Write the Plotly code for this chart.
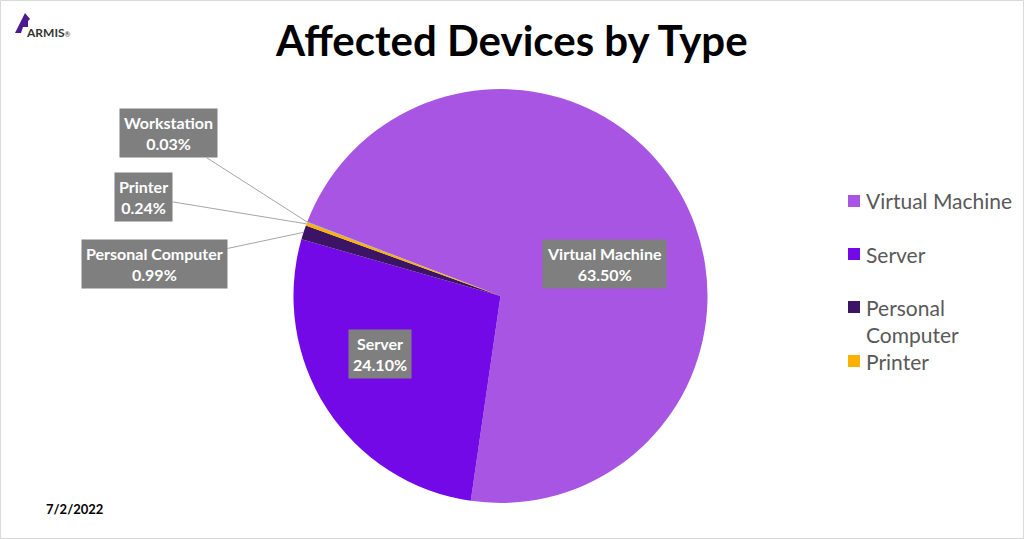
import numpy as np
import plotly.graph_objects as go

# ---- data ----
labels = ["Virtual Machine", "Server", "Personal Computer", "Printer", "Workstation"]
pct = [63.50, 24.10, 0.99, 0.24, 0.03]
pct_text = ["63.50%", "24.10%", "0.99%", "0.24%", "0.03%"]
colors = ["#A855E3", "#7209E6", "#3B1466", "#FFB000", "#5B9BD5"]
legend_labels = ["Virtual Machine", "Server", "Personal<br>Computer", "Printer"]
title = "Affected Devices by Type"
date_text = "7/2/2022"

W, H = 1024, 539
cx, cy, R = 500.5, 296.0, 207.0
rotation = 291

fig = go.Figure()
fig.add_trace(go.Pie(
    labels=labels, values=pct, sort=False, direction="clockwise",
    rotation=rotation, marker=dict(colors=colors, line=dict(width=0)),
    textinfo="none", hoverinfo="label+percent", showlegend=False,
    domain=dict(x=[(cx - R) / W, (cx + R) / W], y=[1 - (cy + R) / H, 1 - (cy - R) / H]),
))

def px(x, y):
    return x / W, 1 - y / H

ann = []
box = dict(bgcolor="#7F7F7F", borderpad=4, font=dict(family="Lato", size=16, color="white"),
           xref="paper", yref="paper", showarrow=False, xanchor="center", yanchor="middle")

# inside labels (VM, Server)
inside_pos = {0: (604, 264), 1: (380, 354)}
for i, (bx, by) in inside_pos.items():
    x, y = px(bx, by)
    ann.append(dict(x=x, y=y, text=f"<b>{labels[i]}<br>{pct_text[i]}</b>", **box))

# outside labels with leader lines for small slices
total = sum(pct)
cum = np.cumsum([0] + pct)
box_centers = {2: (154, 264), 3: (143, 197), 4: (168, 133)}
for i, (bx, by) in box_centers.items():
    mid = rotation + (cum[i] + pct[i] / 2) / total * 360
    a = np.radians(mid)
    ex, ey = cx + R * np.sin(a), cy - R * np.cos(a)
    x, y = px(ex, ey)
    d = dict(box)
    d.pop("xanchor"); d.pop("yanchor")
    d.update(showarrow=True, arrowhead=0, arrowwidth=1, arrowcolor="#A6A6A6",
             standoff=0, ax=bx - ex, ay=by - ey, axref="pixel", ayref="pixel")
    ann.append(dict(x=x, y=y, text=f"<b>{labels[i]}<br>{pct_text[i]}</b>", **d))

# title
ann.append(dict(x=511 / W, y=1 - 40 / H, xref="paper", yref="paper", showarrow=False,
                xanchor="center", yanchor="middle",
                text=f"<b>{title}</b>", font=dict(family="Lato", size=42, color="black")))
# date
ann.append(dict(x=44 / W, y=1 - 509 / H, xref="paper", yref="paper", showarrow=False,
                xanchor="left", yanchor="middle",
                text=f"<b>{date_text}</b>", font=dict(family="Lato", size=13, color="black")))
# logo text
ann.append(dict(x=24 / W, y=1 - 33 / H, xref="paper", yref="paper", showarrow=False,
                xanchor="left", yanchor="middle",
                text="<b>ARMIS</b><span style='font-size:7px'>®</span>",
                font=dict(family="Lato", size=12, color="#333333")))

# manual legend
shapes = []
leg_y = [201, 254, 307, 361]
for i, ly in enumerate(leg_y):
    shapes.append(dict(type="rect", xref="paper", yref="paper",
                       x0=848 / W, x1=860 / W, y0=1 - (ly + 6) / H, y1=1 - (ly - 6) / H,
                       fillcolor=colors[i], line=dict(width=0)))
    ty = ly + 14 if "<br>" in legend_labels[i] else ly
    ann.append(dict(x=864 / W, y=1 - ty / H, xref="paper", yref="paper", showarrow=False,
                    xanchor="left", yanchor="middle", align="left", text=legend_labels[i],
                    font=dict(family="Lato", size=21, color="#595959")))

# logo mark
pts = [(15, 33), (25, 13), (30, 19), (28, 21), (28, 27), (23, 27), (21, 33)]
path = "M " + " L ".join("{} {}".format(*px(x, y)) for x, y in pts) + " Z"
shapes.append(dict(type="path", xref="paper", yref="paper", path=path,
                   fillcolor="#4B1C8F", line=dict(width=0)))
# border
shapes.append(dict(type="rect", xref="paper", yref="paper", x0=0.5 / W, x1=1 - 0.5 / W,
                   y0=0.5 / H, y1=1 - 0.5 / H, line=dict(color="#D9D9D9", width=1)))

fig.update_layout(width=W, height=H, margin=dict(l=0, r=0, t=0, b=0),
                  paper_bgcolor="white", plot_bgcolor="white",
                  annotations=ann, shapes=shapes, showlegend=False)
fig.write_html("out.html")
